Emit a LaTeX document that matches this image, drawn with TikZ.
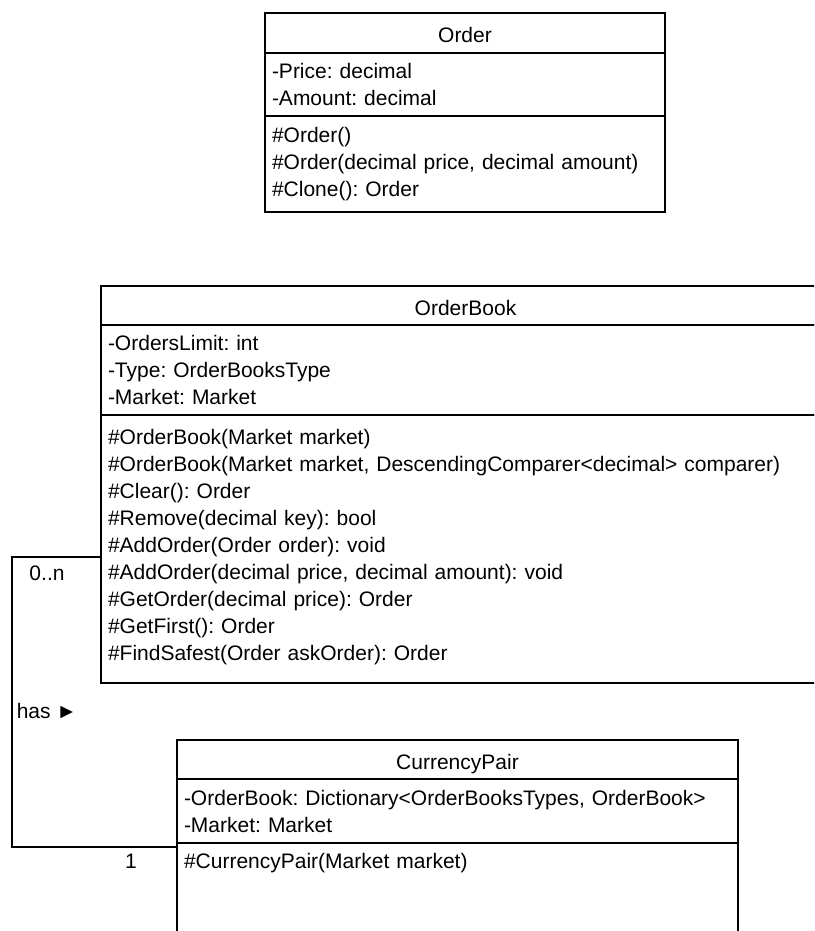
\documentclass[tikz,border=0pt]{standalone}
\usepackage{fontspec}
\setmainfont{Liberation Sans}
\usetikzlibrary{positioning}
\frenchspacing

\begin{document}
\begin{tikzpicture}[x=1pt,y=-1pt,
    every node/.style={font=\fontsize{21}{27}\selectfont},
    part/.style={draw,line width=1.3pt,anchor=north west,outer sep=0pt,
                 inner xsep=7pt,inner ysep=2pt},
    head/.style={part,align=center,text height=20pt,text depth=0pt},
    body/.style={part,align=left},
    ordw/.style={minimum width=400pt,text width=386pt},
    obw/.style={minimum width=729pt,text width=715pt},
    cpw/.style={minimum width=561pt,text width=547pt},
    conn/.style={line width=1.3pt},
    lbl/.style={inner sep=1pt}
]
  \clip (0,0) rectangle (814,931);

  % Order
  \node[head,ordw,minimum height=40pt] (ordH) at (265,13) {Order};
  \node[body,ordw,minimum height=63pt] (ordA) at (ordH.south west)
    {-Price: decimal\\-Amount: decimal};
  \node[body,ordw,minimum height=96pt] (ordM) at (ordA.south west)
    {\#Order()\\\#Order(decimal price, decimal amount)\\\#Clone(): Order};

  % OrderBook
  \node[head,obw,minimum height=39pt] (obH) at (101,286) {OrderBook};
  \node[body,obw,minimum height=90pt] (obA) at (obH.south west)
    {-OrdersLimit: int\\-Type: OrderBooksType\\-Market: Market};
  \node[body,obw,minimum height=268pt,text depth=224pt] (obM) at (obA.south west)
    {\#OrderBook(Market market)\\
     \#OrderBook(Market market, DescendingComparer<decimal> comparer)\\
     \#Clear(): Order\\
     \#Remove(decimal key): bool\\
     \#AddOrder(Order order): void\\
     \#AddOrder(decimal price, decimal amount): void\\
     \#GetOrder(decimal price): Order\\
     \#GetFirst(): Order\\
     \#FindSafest(Order askOrder): Order};

  % CurrencyPair
  \node[head,cpw,minimum height=39pt] (cpH) at (177,740) {CurrencyPair};
  \node[body,cpw,minimum height=64pt] (cpA) at (cpH.south west)
    {-OrderBook: Dictionary<OrderBooksTypes, OrderBook>\\-Market: Market};
  \node[body,cpw,minimum height=120pt,text depth=85pt] (cpM) at (cpA.south west)
    {\#CurrencyPair(Market market)};

  % association
  \draw[conn] ([yshift=-8pt]obM.west) -- ++(-89,0) |- ([yshift=-4pt]cpA.south west);
  \node[lbl] (multN) at (47,573) {0..n};
  \node[lbl] (has) at (47,711) {has ►};
  \node[lbl] (multOne) at (131,861) {1};
\end{tikzpicture}
\end{document}
